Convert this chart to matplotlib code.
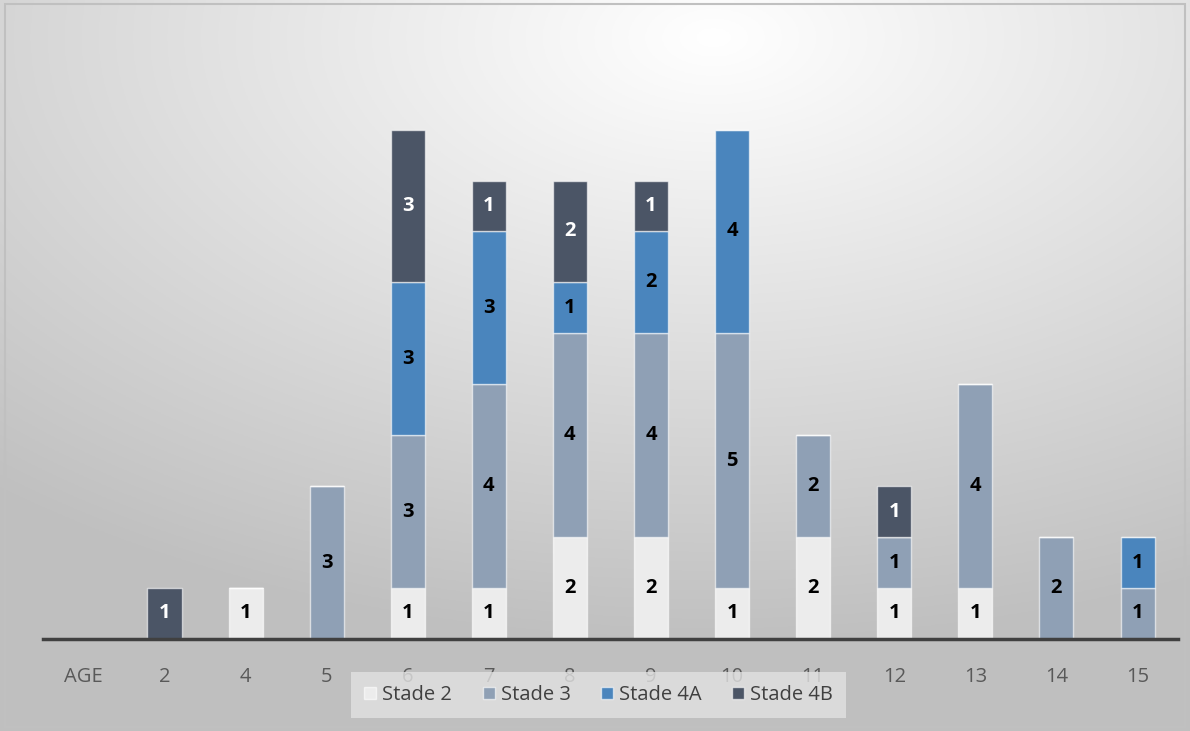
import numpy as np
import matplotlib
matplotlib.use("Agg")
import matplotlib.pyplot as plt

plt.rcParams["font.family"] = ["Open Sans", "DejaVu Sans"]

# ---- data ----
categories = ["AGE", "2", "4", "5", "6", "7", "8", "9", "10", "11", "12", "13", "14", "15"]
stade_2  = [0, 0, 1, 0, 1, 1, 2, 2, 1, 2, 1, 1, 0, 0]
stade_3  = [0, 0, 0, 3, 3, 4, 4, 4, 5, 2, 1, 4, 2, 1]
stade_4a = [0, 0, 0, 0, 3, 3, 1, 2, 4, 0, 0, 0, 0, 1]
stade_4b = [0, 1, 0, 0, 3, 1, 2, 1, 0, 0, 1, 0, 0, 0]

series = [
    ("Stade 2", stade_2, "#ececec", "black"),
    ("Stade 3", stade_3, "#8fa0b5", "black"),
    ("Stade 4A", stade_4a, "#4a85bd", "black"),
    ("Stade 4B", stade_4b, "#4b5566", "white"),
]

fig = plt.figure(figsize=(11.9, 7.31), dpi=100)

# background gradient (light at top centre, grey towards the edges)
bg = fig.add_axes([0, 0, 1, 1], zorder=0)
yy, xx = np.mgrid[0:1:300j, 0:1:480j]
d = np.sqrt(((xx - 0.6) / 1.1) ** 2 + ((yy - 0.05) / 1.0) ** 2)
shade = np.clip(1.0 - 0.3 * d, 0.75, 1.0)
bg.imshow(np.dstack([shade] * 3), aspect="auto", extent=[0, 1, 0, 1], origin="upper")
bg.add_patch(plt.Rectangle((0.004, 0.005), 0.992, 0.99, fill=False,
                           edgecolor="#c0c0c0", lw=1.5, transform=bg.transAxes))
bg.axis("off")

ax = fig.add_axes([0.036, 0.126, 0.954, 0.836], zorder=1)
ax.patch.set_alpha(0)

x = np.arange(len(categories))
bottom = np.zeros(len(categories))
for name, vals, col, tcol in series:
    vals = np.array(vals, dtype=float)
    ax.bar(x, vals, 0.42, bottom=bottom, color=col, label=name,
           edgecolor=(1, 1, 1, 0.6), linewidth=1)
    for xi, b, v in zip(x, bottom, vals):
        if v > 0:
            ax.text(xi, b + v / 2, f"{int(v)}", ha="center", va="center",
                    fontsize=14.5, fontweight="bold", color=tcol)
    bottom += vals

ax.set_xlim(-0.5, len(categories) - 0.5)
ax.set_ylim(0, 12)
ax.set_xticks(x)
ax.set_xticklabels(categories, fontsize=14.5, color="#595959")
ax.tick_params(axis="x", length=0, pad=20)
ax.set_yticks([])
for s in ["top", "right", "left"]:
    ax.spines[s].set_visible(False)
ax.spines["bottom"].set_color("#404040")
ax.spines["bottom"].set_linewidth(2.5)

leg = fig.legend(loc="center", bbox_to_anchor=(0.503, 0.049), ncol=4,
                 fontsize=14.5, frameon=True, fancybox=False, handlelength=0.6,
                 handleheight=0.6, handletextpad=0.3, columnspacing=1.5,
                 borderpad=0.65, borderaxespad=0)
leg.get_frame().set_facecolor("#e2e2e2")
leg.get_frame().set_edgecolor("none")
leg.get_frame().set_alpha(0.8)
for t in leg.get_texts():
    t.set_color("#404040")

fig.savefig("out.png", dpi=100)
